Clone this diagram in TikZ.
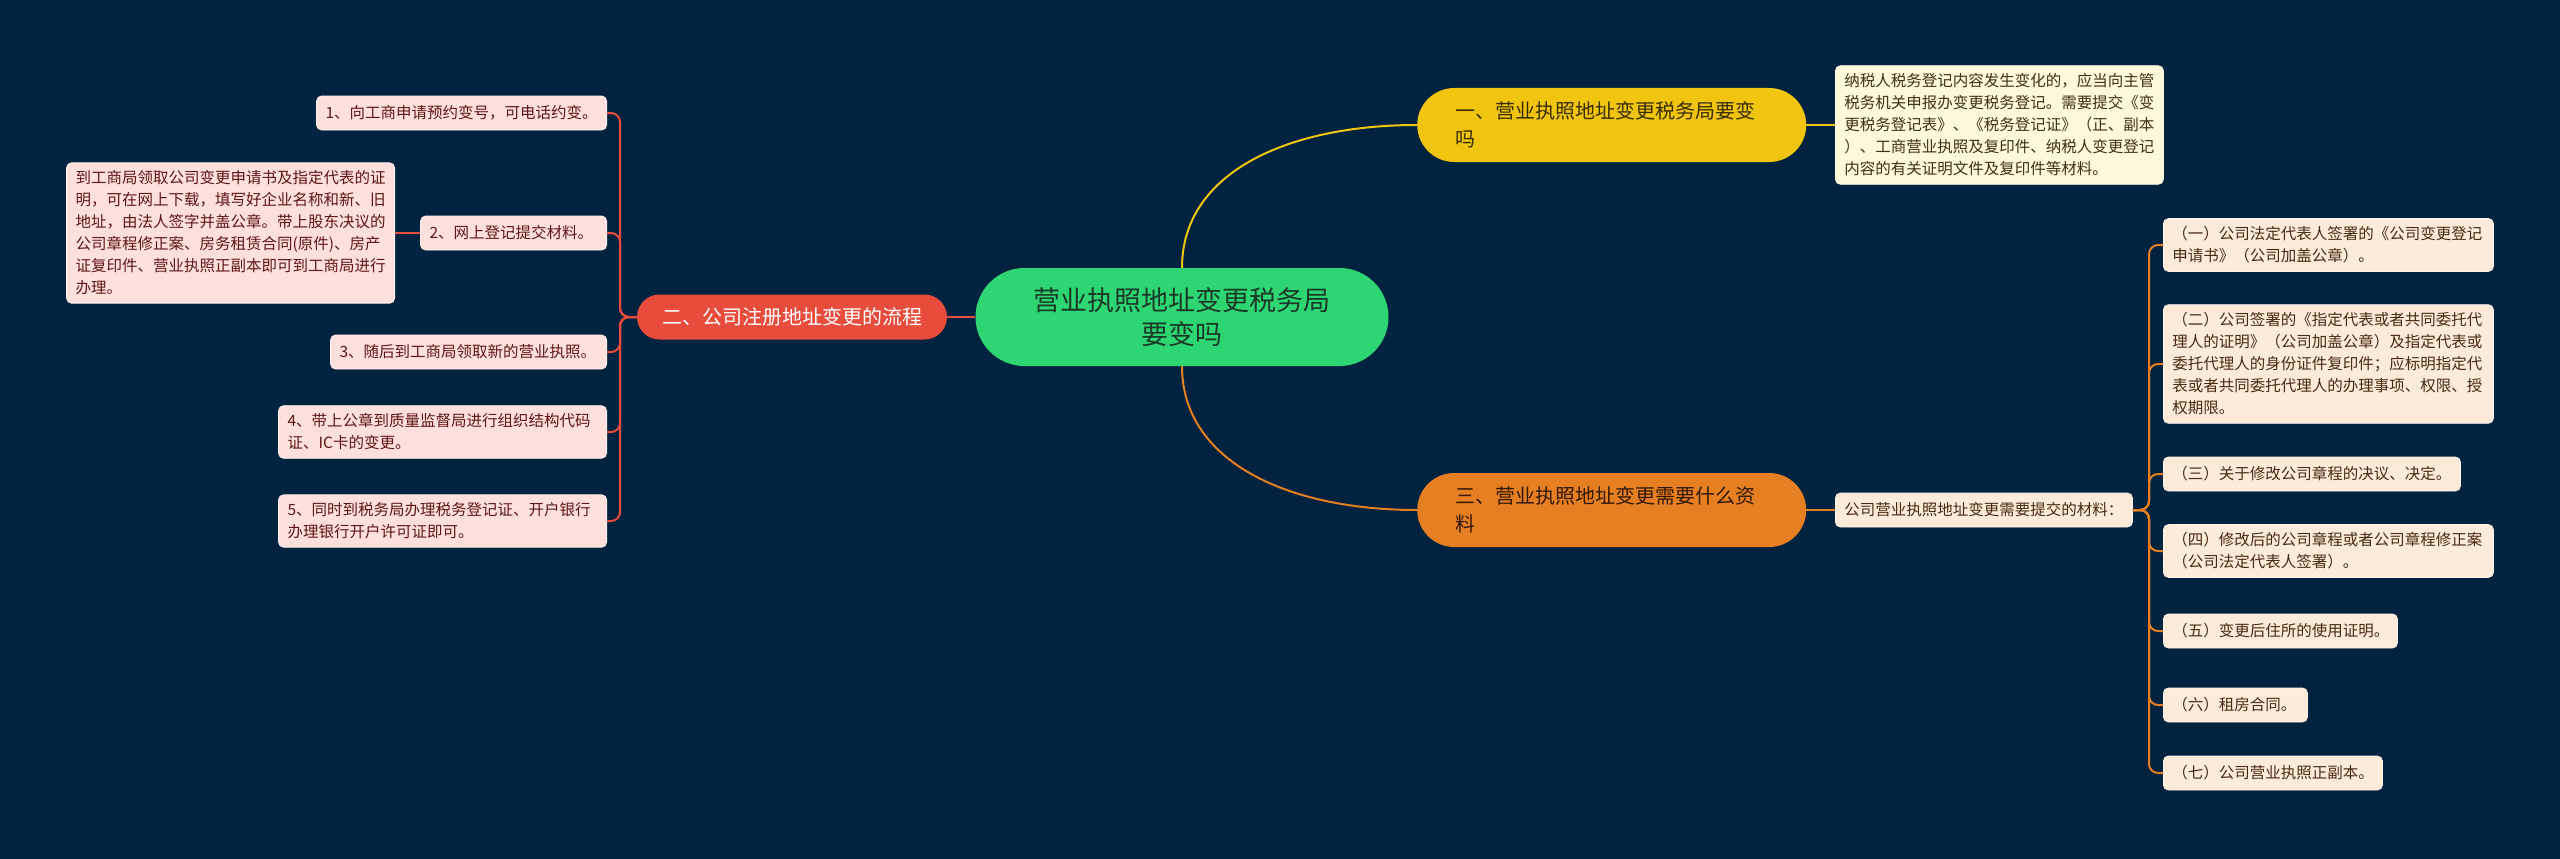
\documentclass[tikz,border=0pt]{standalone}
\usepackage{fontspec}
\setmainfont{Noto Sans CJK SC}
\definecolor{bg}{RGB}{2,35,64}
\definecolor{cgreen}{RGB}{46,213,115}
\definecolor{cgreent}{RGB}{24,58,38}
\definecolor{cred}{RGB}{231,76,60}
\definecolor{cyel}{RGB}{241,196,15}
\definecolor{cyelt}{RGB}{55,45,5}
\definecolor{cora}{RGB}{230,126,34}
\definecolor{corat}{RGB}{50,25,5}
\definecolor{pinkf}{RGB}{253,224,220}
\definecolor{pinkd}{RGB}{255,240,238}
\definecolor{pinkt}{RGB}{95,22,22}
\definecolor{creamf}{RGB}{254,247,217}
\definecolor{creamt}{RGB}{60,50,20}
\definecolor{peachf}{RGB}{253,235,218}
\definecolor{peacht}{RGB}{72,42,16}
\begin{document}
\begin{tikzpicture}[x=1pt,y=-1pt,
  leafbox/.style={rounded corners=5pt, line width=0.8pt, align=left,
    font=\fontsize{15.5}{22}\selectfont, inner xsep=9pt, inner ysep=8pt,
    minimum height=34pt},
  lbox/.style={leafbox, fill=pinkf, draw=pinkd, text=pinkt, anchor=east},
  rbox/.style={leafbox, fill=peachf, draw=peachf!60!white, text=peacht, anchor=west},
  ybox/.style={leafbox, fill=creamf, draw=creamf!60!white, text=creamt, anchor=west},
  mainbox/.style={rounded corners=37pt, minimum height=74pt, inner xsep=38pt,
    text width=313pt, align=left, font=\fontsize{20}{28}\selectfont, anchor=west},
  redline/.style={draw=cred, line width=2pt},
  yelline/.style={draw=cyel, line width=2pt},
  oraline/.style={draw=cora, line width=2pt}
]
\useasboundingbox[fill=bg] (0,0) rectangle (2560,859);

% center
\node[fill=cgreen, rounded corners=49pt, minimum width=413pt, minimum height=98pt,
  align=center, text=cgreent, font=\fontsize{27}{34}\selectfont] (c) at (1182,317)
  {营业执照地址变更税务局\\要变吗};

% red branch
\node[fill=cred, rounded corners=22.5pt, minimum width=310pt, minimum height=45pt,
  text=white, font=\fontsize{20}{26}\selectfont] (red) at (792,317) {二、公司注册地址变更的流程};

\node[lbox, text width=272pt] (n1) at (607,113) {1、向工商申请预约变号，可电话约变。};
\node[lbox, text width=168pt] (n2) at (607,233) {2、网上登记提交材料。};
\node[lbox, text width=310pt] (n2a) at (395,233) {到工商局领取公司变更申请书及指定代表的证\\明，可在网上下载，填写好企业名称和新、旧\\地址，由法人签字并盖公章。带上股东决议的\\公司章程修正案、房务租赁合同(原件)、房产\\证复印件、营业执照正副本即可到工商局进行\\办理。};
\node[lbox, text width=258pt] (n3) at (607,352) {3、随后到工商局领取新的营业执照。};
\node[lbox, text width=310pt] (n4) at (607,432) {4、带上公章到质量监督局进行组织结构代码\\证、IC卡的变更。};
\node[lbox, text width=310pt] (n5) at (607,521) {5、同时到税务局办理税务登记证、开户银行\\办理银行开户许可证即可。};

% yellow branch
\node[mainbox, fill=cyel, text=cyelt] (yel) at (1417,125) {一、营业执照地址变更税务局要变\\吗};
\node[ybox, text width=310pt] (yd) at (1835,125) {纳税人税务登记内容发生变化的，应当向主管\\税务机关申报办变更税务登记。需要提交《变\\更税务登记表》、《税务登记证》（正、副本\\）、工商营业执照及复印件、纳税人变更登记\\内容的有关证明文件及复印件等材料。};

% orange branch
\node[mainbox, fill=cora, text=corat] (ora) at (1417,510) {三、营业执照地址变更需要什么资\\料};
\node[rbox, text width=279pt] (os) at (1835,510) {公司营业执照地址变更需要提交的材料：};

\node[rbox, text width=312pt] (r1) at (2163,245) {（一）公司法定代表人签署的《公司变更登记\\申请书》（公司加盖公章）。};
\node[rbox, text width=312pt] (r2) at (2163,364) {（二）公司签署的《指定代表或者共同委托代\\理人的证明》（公司加盖公章）及指定代表或\\委托代理人的身份证件复印件；应标明指定代\\表或者共同委托代理人的办理事项、权限、授\\权期限。};
\node[rbox, text width=279pt] (r3) at (2163,474) {（三）关于修改公司章程的决议、决定。};
\node[rbox, text width=312pt] (r4) at (2163,551) {（四）修改后的公司章程或者公司章程修正案\\（公司法定代表人签署）。};
\node[rbox, text width=216pt] (r5) at (2163,631) {（五）变更后住所的使用证明。};
\node[rbox, text width=126pt] (r6) at (2163,705) {（六）租房合同。};
\node[rbox, text width=201pt] (r7) at (2163,773) {（七）公司营业执照正副本。};

% junctions
\coordinate (lj) at (620,317);
\coordinate (rj) at (2149,510);

% connectors
\draw[redline] (c.west) -- (red.east);
\foreach \n in {n1,n2,n3,n4,n5}
  \draw[redline, rounded corners=9pt] (red.west) -- (lj) |- (\n.east);
\draw[redline] (n2.west) -- (n2a.east);

\draw[yelline] (c.north) .. controls +(0,-95) and +(-130,0) .. (yel.west);
\draw[yelline] (yel.east) -- (yd.west);

\draw[oraline] (c.south) .. controls +(0,95) and +(-130,0) .. (ora.west);
\draw[oraline] (ora.east) -- (os.west);
\foreach \n in {r1,r2,r3,r4,r5,r6,r7}
  \draw[oraline, rounded corners=9pt] (os.east) -- (rj) |- (\n.west);
\end{tikzpicture}
\end{document}
